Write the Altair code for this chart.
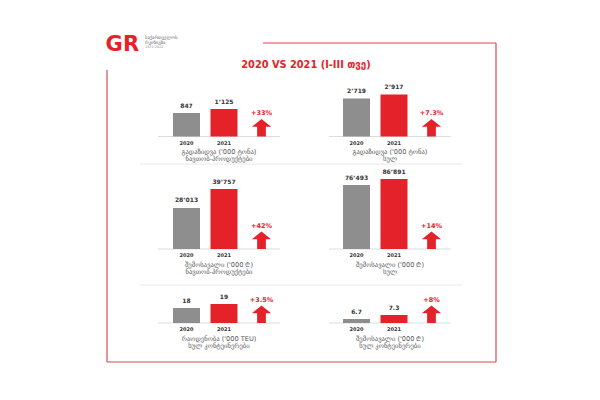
import altair as alt
import pandas as pd

# ---------------- data ----------------
years = ["2020", "2021"]
metric_titles = [
    "გადაზიდვა ('000 ტონა)",
    "გადაზიდვა ('000 ტონა)",
    "შემოსავალი ('000 ₾)",
    "შემოსავალი ('000 ₾)",
    "რაოდენობა ('000 TEU)",
    "შემოსავალი ('000 ₾)",
]
metric_subtitles = [
    "ნავთობ-პროდუქტები",
    "სულ",
    "ნავთობ-პროდუქტები",
    "სულ",
    "სულ კონტეინერები",
    "სულ კონტეინერები",
]
values_2020 = [847, 2719, 28013, 76493, 18, 6.7]
values_2021 = [1125, 2917, 39757, 86891, 19, 7.3]
labels_2020 = ["847", "2’719", "28’013", "76’493", "18", "6.7"]
labels_2021 = ["1’125", "2’917", "39’757", "86’891", "19", "7.3"]
changes = ["+33%", "+7.3%", "+42%", "+14%", "+3.5%", "+8%"]
title_text = "2020 VS 2021 (I-III თვე)"
logo_letters = ["G", "R"]
logo_lines = ["საქართველოს", "რკინიგზა", "1872-2022"]

# ---------------- layout / style ----------------
RED = "#e42229"
GRAY = "#8e8e8e"
DARK = "#333333"
SUB = "#555555"
FONT = "DejaVu Sans"

col_band = [(159.75, 272.25), (329.75, 442.25)]
col_base_line = [(150, 272), (321, 443)]
col_center = [211, 382]
row_base = [128.5, 241, 315]
panel_lo = [-786, 838, 2670, -34419, 14.25, 6.1]
panel_h = [27.5, 42, 60, 70, 19, 8]

ARROW = "M0,-2 L1.1,-1.12 L0.5,-1.12 L0.5,0 L-0.5,0 L-0.5,-1.12 L-1.1,-1.12 Z"


def panel(i):
    r, c = divmod(i, 2)
    base = row_base[r]
    lo = panel_lo[i]
    hi = values_2021[i]
    df = pd.DataFrame({
        "year": years,
        "value": [values_2020[i], values_2021[i]],
        "label": [labels_2020[i], labels_2021[i]],
    })
    df_arrow = pd.DataFrame({"slot": ["Δ"], "change": [changes[i]]})
    df_sub = pd.DataFrame({"t1": [metric_titles[i]], "t2": [metric_subtitles[i]]})

    xs = alt.Scale(domain=years + ["Δ"], range=list(col_band[c]),
                   paddingInner=0.28, paddingOuter=0.14)
    ys = alt.Scale(domain=[lo, hi], range=[base, base - panel_h[i]],
                   zero=False, nice=False)

    baseline = alt.Chart(df_sub).mark_rule(color="#dcdcdc", strokeWidth=1).encode(
        x=alt.value(col_base_line[c][0]),
        x2=alt.value(col_base_line[c][1]),
        y=alt.Y(datum=lo, type="quantitative", scale=ys, axis=None),
    )
    bars = alt.Chart(df).mark_bar().encode(
        x=alt.X("year:N", scale=xs, axis=None),
        y=alt.Y("value:Q", scale=ys, axis=None),
        y2=alt.datum(lo),
        color=alt.Color("year:N", scale=alt.Scale(domain=years, range=[GRAY, RED]), legend=None),
    )
    vals = alt.Chart(df).mark_text(
        dy=-5.5, baseline="alphabetic", fontSize=6, fontWeight="bold", color=DARK, font=FONT
    ).encode(x="year:N", y="value:Q", text="label:N")
    yrs = alt.Chart(df).mark_text(
        dy=6, baseline="middle", fontSize=5, fontWeight="bold", color=DARK, font=FONT
    ).encode(x="year:N", y=alt.datum(lo), text="year:N")
    arrow = alt.Chart(df_arrow).mark_point(
        shape=ARROW, size=306, filled=True, color=RED, opacity=1, strokeWidth=0
    ).encode(x="slot:N", y=alt.datum(lo))
    chg = alt.Chart(df_arrow).mark_text(
        dy=-21.5, baseline="alphabetic", fontSize=6.5, fontWeight="bold", color=RED, font=FONT
    ).encode(x="slot:N", y=alt.datum(lo), text="change:N")
    sub1 = alt.Chart(df_sub).mark_text(
        dy=15.5, baseline="middle", fontSize=6.6, color=SUB, font=FONT
    ).encode(x=alt.value(col_center[c]), y=alt.datum(lo), text="t1:N")
    sub2 = alt.Chart(df_sub).mark_text(
        dy=22.5, baseline="middle", fontSize=6.6, color=SUB, font=FONT
    ).encode(x=alt.value(col_center[c]), y=alt.datum(lo), text="t2:N")
    return alt.layer(baseline, bars, vals, yrs, arrow, chg, sub1, sub2)


# ---------------- decoration ----------------
frame_df = pd.DataFrame({
    "x": [255, 488, 99, 99],
    "x2": [488, 488, 488, 99],
    "y": [35, 35, 354, 62],
    "y2": [35, 354, 354, 354],
})
frame = alt.Chart(frame_df).mark_rule(color="#e0474c", strokeWidth=1.2).encode(
    x=alt.X("x:Q", scale=None), x2="x2:Q",
    y=alt.Y("y:Q", scale=None), y2="y2:Q",
)
sep_df = pd.DataFrame({"y": [156, 277]})
seps = alt.Chart(sep_df).mark_rule(color="#e8e8e8", strokeWidth=1).encode(
    x=alt.value(132), x2=alt.value(454), y=alt.Y("y:Q", scale=None)
)
logo_df = pd.DataFrame({"ch": logo_letters, "px": [106, 123]})
logo = alt.Chart(logo_df).mark_text(
    fontSize=21, fontWeight="bold", color=RED, font=FONT, align="center", baseline="middle"
).encode(x=alt.X("px:Q", scale=None), y=alt.value(36.5), text="ch:N")
one = pd.DataFrame({"title": [title_text],
                    "l1": [logo_lines[0]], "l2": [logo_lines[1]], "l3": [logo_lines[2]]})
l1 = alt.Chart(one).mark_text(fontSize=4.6, color="#666", font=FONT, align="left", baseline="middle").encode(
    x=alt.value(137), y=alt.value(30), text="l1:N")
l2 = alt.Chart(one).mark_text(fontSize=4.6, color="#666", font=FONT, align="left", baseline="middle").encode(
    x=alt.value(137), y=alt.value(34.5), text="l2:N")
l3 = alt.Chart(one).mark_text(fontSize=3.4, color="#888", font=FONT, align="left", baseline="middle").encode(
    x=alt.value(137), y=alt.value(39), text="l3:N")
title = alt.Chart(one).mark_text(
    fontSize=9.8, fontWeight="bold", color=RED, font=FONT, align="center", baseline="middle"
).encode(x=alt.value(298), y=alt.value(57), text="title:N")

panels = [panel(i) for i in range(6)]

chart = alt.layer(frame, seps, logo, l1, l2, l3, title, *panels).resolve_scale(
    x="independent", y="independent"
).properties(
    width=584, height=384, padding=0, autosize=alt.AutoSizeParams(type="none")
).configure_view(stroke=None)

chart.save("out.html", embed_options={"renderer": "svg", "actions": False})
